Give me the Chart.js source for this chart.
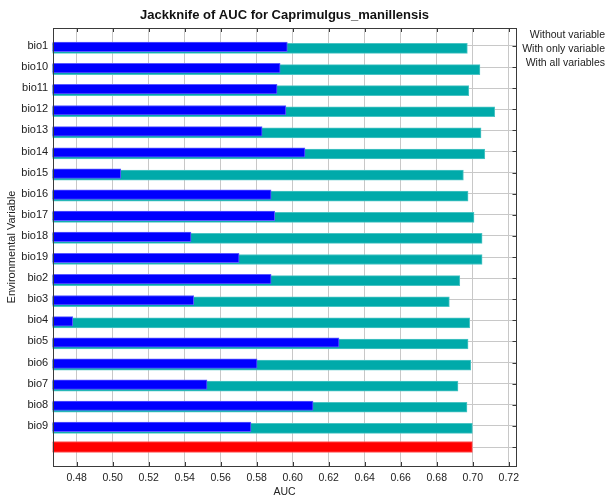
<!DOCTYPE html>
<html lang="en">

<head>
    <meta charset="UTF-8">
    <title>Jackknife of AUC for Caprimulgus_manillensis</title>
    <style>
        html, body { margin: 0; padding: 0; background: #fff; }
    </style>
</head>

<body>
    <canvas id="chart" width="611" height="498"></canvas>

    <script src="https://cdn.jsdelivr.net/npm/chart.js@4/dist/chart.umd.min.js"></script>
    <script>
        // values
        const variables = ['bio1', 'bio10', 'bio11', 'bio12', 'bio13', 'bio14', 'bio15', 'bio16', 'bio17',
            'bio18', 'bio19', 'bio2', 'bio3', 'bio4', 'bio5', 'bio6', 'bio7', 'bio8', 'bio9'];
        const withoutVariable = [0.6970, 0.7040, 0.6978, 0.7122, 0.7046, 0.7067, 0.6948, 0.6974, 0.7007,
            0.7052, 0.7052, 0.6928, 0.6870, 0.6983, 0.6974, 0.6989, 0.6918, 0.6968, 0.6998];
        const withOnlyVariable = [0.5970, 0.5930, 0.5913, 0.5962, 0.5830, 0.6068, 0.5045, 0.5880, 0.5900,
            0.5435, 0.5702, 0.5880, 0.5450, 0.4778, 0.6257, 0.5802, 0.5524, 0.6113, 0.5768];
        const withAllVariables = 0.6998;
        const aucTicks = [0.48, 0.50, 0.52, 0.54, 0.56, 0.58, 0.60, 0.62, 0.64, 0.66, 0.68, 0.70, 0.72];
        const legendLabels = ['Without variable', 'With only variable', 'With all variables'];

        const rowLabels = variables.concat(['']);
        const allRow = variables.length;

        const yMin = -0.85, yMax = 19.90;
        const rowPx = 21.1;
        const FONT = '"Liberation Sans", Arial, sans-serif';

        // hidden copies of the row axis, nudged down a little like the Maxent renderer
        function shiftedAxis(px) {
            const d = px / rowPx;
            return {
                type: 'linear', display: false, reverse: true, offset: false,
                grid: { offset: false }, min: yMin - d, max: yMax - d
            };
        }

        const framePlugin = {
            id: 'frame',
            afterDraw(chart) {
                const { ctx, chartArea: a, scales } = chart;
                ctx.save();
                ctx.strokeStyle = '#3a3a3a';
                ctx.lineWidth = 1;
                ctx.beginPath();
                aucTicks.forEach(v => {
                    const x = Math.round(scales.x.getPixelForValue(v)) + 0.5;
                    ctx.moveTo(x, a.top); ctx.lineTo(x, a.top + 4);
                    ctx.moveTo(x, a.bottom); ctx.lineTo(x, a.bottom - 4);
                });
                rowLabels.forEach((l, i) => {
                    const y = Math.round(scales.y.getPixelForValue(i)) + 0.5;
                    ctx.moveTo(a.right, y); ctx.lineTo(a.right - 4, y);
                });
                ctx.stroke();
                ctx.strokeRect(Math.round(a.left) + 0.5, Math.round(a.top) + 0.5,
                    Math.round(a.right - a.left) - 1, Math.round(a.bottom - a.top));

                ctx.fillStyle = '#111';
                ctx.font = 'bold 13px ' + FONT;
                ctx.textAlign = 'center';
                ctx.textBaseline = 'middle';
                ctx.fillText('Jackknife of AUC for Caprimulgus_manillensis', (a.left + a.right) / 2, 15);

                ctx.font = '10.5px ' + FONT;
                ctx.fillStyle = '#222';
                ctx.textAlign = 'right';
                legendLabels.forEach((t, i) => ctx.fillText(t, 605, 35 + i * 14));
                ctx.restore();
            }
        };

        const ctx = document.getElementById('chart').getContext('2d');
        const chart = new Chart(ctx, {
            type: 'bar',
            data: {
                datasets: [
                    {
                        label: legendLabels[1],
                        data: withOnlyVariable.map((v, i) => ({ x: v, y: i })),
                        yAxisID: 'yb',
                        backgroundColor: '#0000ff',
                        borderColor: '#5a5aff',
                        borderWidth: 1,
                        barThickness: 9.5,
                        grouped: false
                    },
                    {
                        label: legendLabels[0],
                        data: withoutVariable.map((v, i) => ({ x: v, y: i })),
                        yAxisID: 'yt',
                        backgroundColor: '#00aaaa',
                        borderColor: '#4cc4c4',
                        borderWidth: 1,
                        barThickness: 10,
                        grouped: false
                    },
                    {
                        label: legendLabels[2],
                        data: [{ x: withAllVariables, y: allRow }],
                        yAxisID: 'y',
                        backgroundColor: '#ff0000',
                        borderColor: '#ff5a5a',
                        borderWidth: 1,
                        barThickness: 11,
                        grouped: false
                    }
                ]
            },
            options: {
                indexAxis: 'y',
                responsive: false,
                devicePixelRatio: 1,
                animation: false,
                layout: { padding: { top: 28, right: 94.5, left: 0, bottom: 0 } },
                plugins: {
                    legend: { display: false },
                    tooltip: { enabled: false }
                },
                scales: {
                    x: {
                        type: 'linear',
                        position: 'bottom',
                        min: 0.46667,
                        max: 0.7243,
                        beginAtZero: false,
                        afterBuildTicks: s => { s.ticks = aucTicks.map(v => ({ value: v })); },
                        afterFit: s => { s.height = 32; },
                        grid: { color: '#c8c8c8', drawTicks: false },
                        border: { display: false },
                        ticks: {
                            padding: 6,
                            color: '#222',
                            font: { family: FONT, size: 10.5 },
                            callback: v => v.toFixed(2)
                        },
                        title: {
                            display: true,
                            text: 'AUC',
                            color: '#222',
                            font: { family: FONT, size: 10.5 },
                            padding: { top: 0, bottom: 0 }
                        }
                    },
                    y: {
                        type: 'linear',
                        position: 'left',
                        reverse: true,
                        offset: false,
                        min: yMin,
                        max: yMax,
                        afterBuildTicks: s => { s.ticks = rowLabels.map((l, i) => ({ value: i })); },
                        afterFit: s => { s.width = 52.7; },
                        grid: { color: '#c8c8c8', drawTicks: false, offset: false },
                        border: { display: false },
                        ticks: {
                            padding: 4.5,
                            color: '#222',
                            font: { family: FONT, size: 11 },
                            callback: v => rowLabels[v]
                        },
                        title: {
                            display: true,
                            text: 'Environmental Variable',
                            color: '#222',
                            font: { family: FONT, size: 11 },
                            padding: { top: 5, bottom: 0 }
                        }
                    },
                    yb: shiftedAxis(1),
                    yt: shiftedAxis(2.5)
                }
            },
            plugins: [framePlugin]
        });
    </script>
</body>

</html>
